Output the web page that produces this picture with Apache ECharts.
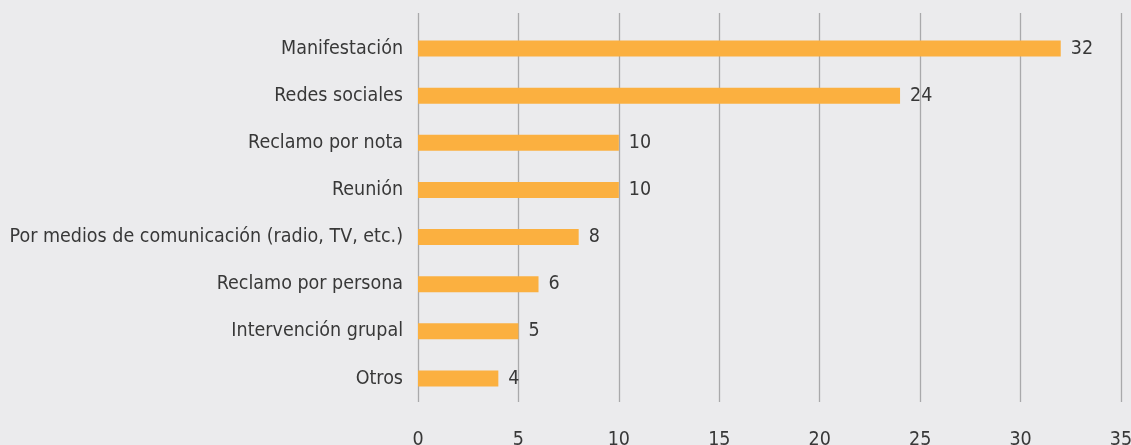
<!DOCTYPE html>
<html>
<head>
<meta charset="utf-8">
<script src="https://cdn.jsdelivr.net/npm/echarts@6/dist/echarts.min.js"></script>
<style>
  html, body { margin: 0; padding: 0; background: #ebebed; }
  #chart { width: 1131px; height: 445px; }
</style>
</head>
<body>
<div id="chart"></div>
<script>
  const categories = [
    'Manifestación',
    'Redes sociales',
    'Reclamo por nota',
    'Reunión',
    'Por medios de comunicación (radio, TV, etc.)',
    'Reclamo por persona',
    'Intervención grupal',
    'Otros'
  ]
  const values = [32, 24, 10, 10, 8, 6, 5, 4]
  const xTicks = [0, 5, 10, 15, 20, 25, 30, 35]

  const font = '"Liberation Sans Narrow", "DejaVu Sans Condensed", sans-serif'
  const textColor = '#383838'

  const chart = echarts.init(document.getElementById('chart'))
  chart.setOption({
    backgroundColor: '#ebebed',
    animation: false,
    grid: [
      // grid that only holds the taller split lines
      { left: 418, right: 10, top: 13, bottom: 43, outerBoundsMode: 'none', containLabel: false },
      // grid with the bars
      { left: 418, right: 10, top: 25, bottom: 43, outerBoundsMode: 'none', containLabel: false }
    ],
    xAxis: [{
      gridIndex: 0,
      type: 'value',
      min: xTicks[0],
      max: xTicks[xTicks.length - 1],
      interval: 5,
      axisLine: { show: false },
      axisTick: { show: false },
      axisLabel: {
        margin: 28,
        fontFamily: font,
        fontSize: 19.5,
        color: textColor
      },
      splitLine: { lineStyle: { color: '#a9a9ab', width: 1.3 } }
    }, {
      gridIndex: 1,
      type: 'value',
      min: xTicks[0],
      max: xTicks[xTicks.length - 1],
      interval: 5,
      axisLine: { show: false },
      axisTick: { show: false },
      axisLabel: { show: false },
      splitLine: { show: false }
    }],
    yAxis: [{
      gridIndex: 0,
      type: 'category',
      data: categories,
      show: false
    }, {
      gridIndex: 1,
      type: 'category',
      data: categories,
      inverse: true,
      axisLine: { show: false },
      axisTick: { show: false },
      axisLabel: {
        margin: 15,
        fontFamily: font,
        fontSize: 19.5,
        color: textColor,
        padding: [3, 0, 0, 0]
      }
    }],
    series: [{
      type: 'bar',
      xAxisIndex: 1,
      yAxisIndex: 1,
      data: values,
      barWidth: 16,
      itemStyle: { color: '#fbb040' },
      label: {
        show: true,
        position: 'right',
        distance: 10,
        fontFamily: font,
        fontSize: 19.5,
        color: textColor,
        padding: [3, 0, 0, 0]
      }
    }]
  })
</script>
</body>
</html>
